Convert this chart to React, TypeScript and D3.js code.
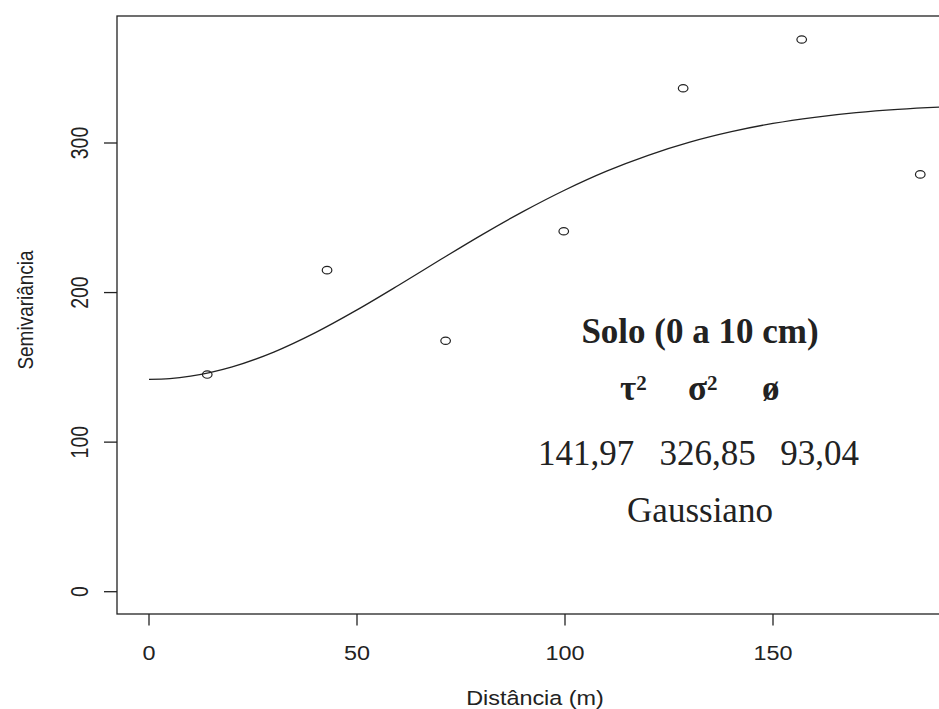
import React from "react";
import * as d3 from "d3";

const lags = [14.0, 42.8, 71.3, 99.7, 128.4, 156.9, 185.4];
const semivar = [145.2, 215.0, 167.8, 241.0, 336.6, 369.2, 279.0];

const curveH = [0, 5, 10, 20, 30, 40, 50, 60, 70, 80, 90, 100, 110, 120, 130, 140, 150, 160, 170, 180, 190, 200];
const curveV = [142.0, 142.5, 144.1, 150.3, 160.2, 173.2, 188.4, 204.9, 221.9, 238.6, 254.3, 268.6, 281.2, 291.8, 300.6, 307.6, 313.1, 317.2, 320.3, 322.5, 324.0, 325.0];

const xTicks = [0, 50, 100, 150];
const yTicks = [0, 100, 200, 300];

const title = "Solo (0 a 10 cm)";
const paramSymbols = ["τ", "σ", "ø"];
const paramSup = ["2", "2", ""];
const paramValues = ["141,97", "326,85", "93,04"];
const modelName = "Gaussiano";

const W = 939;
const H = 709;
const box = { left: 117, top: 16, right: 985, bottom: 614 };
const SX = 1.2;

const x = d3.scaleLinear().domain([0, 150]).range([149, 773]);
const y = d3.scaleLinear().domain([0, 300]).range([591.7, 143]);

const sans = "'Liberation Sans', Arial, Helvetica, sans-serif";
const serif = "'Liberation Serif', 'Times New Roman', Times, serif";
const ink = "#222";

function SText({ tx, ty, rot = 0, children, size = 19.5, anchor = "middle" }: any) {
  return (
    <g transform={`translate(${tx},${ty}) scale(${SX},1) rotate(${rot})`}>
      <text fontFamily={sans} fontSize={size} textAnchor={anchor} fill={ink}>
        {children}
      </text>
    </g>
  );
}

export default function App() {
  const line = d3
    .line<number>()
    .x((_, i) => x(curveH[i]))
    .y((v) => y(v))
    .curve(d3.curveMonotoneX);

  const paramX = [620, 688, 762];
  const valueX = [586, 707.5, 819.5];

  return (
    <svg
      width={W}
      height={H}
      style={{ position: "absolute", left: 0, top: 0, display: "block", background: "#fff" }}
    >
      <rect x={0} y={0} width={W} height={H} fill="#fff" />
      {/* box */}
      <rect
        x={box.left}
        y={box.top}
        width={box.right - box.left}
        height={box.bottom - box.top}
        fill="none"
        stroke={ink}
        strokeWidth={1.3}
      />
      {/* x ticks */}
      {xTicks.map((t) => (
        <g key={"xt" + t}>
          <line x1={x(t)} x2={x(t)} y1={box.bottom} y2={box.bottom + 11.5} stroke={ink} strokeWidth={1.3} />
          <SText tx={x(t)} ty={660}>{String(t)}</SText>
        </g>
      ))}
      {/* y ticks */}
      {yTicks.map((t) => (
        <g key={"yt" + t}>
          <line x1={box.left - 13} x2={box.left} y1={y(t)} y2={y(t)} stroke={ink} strokeWidth={1.3} />
          <SText tx={88} ty={y(t)} rot={-90}>{String(t)}</SText>
        </g>
      ))}
      <SText tx={535} ty={705}>Distância (m)</SText>
      <SText tx={33} ty={310} rot={-90} size={19}>Semivariância</SText>

      {/* model curve */}
      <path d={line(curveV) || ""} fill="none" stroke={ink} strokeWidth={1.3} />

      {/* empirical points */}
      {lags.map((h, i) => (
        <ellipse key={"p" + i} cx={x(h)} cy={y(semivar[i])} rx={4.8} ry={3.7} fill="none" stroke={ink} strokeWidth={1.2} />
      ))}

      {/* annotation */}
      <text x={700} y={343} fontFamily={serif} fontSize={35} fontWeight="bold" textAnchor="middle" fill={ink}>
        {title}
      </text>
      {paramSymbols.map((s, i) => (
        <text key={"ps" + i} x={paramX[i]} y={400} fontFamily={serif} fontSize={35} fontWeight="bold" fill={ink}>
          {s}
          {paramSup[i] ? (
            <tspan fontSize={21} dy={-10}>{paramSup[i]}</tspan>
          ) : null}
        </text>
      ))}
      {paramValues.map((v, i) => (
        <text key={"pv" + i} x={valueX[i]} y={465} fontFamily={serif} fontSize={35} textAnchor="middle" fill={ink}>
          {v}
        </text>
      ))}
      <text x={700} y={522} fontFamily={serif} fontSize={35} textAnchor="middle" fill={ink}>
        {modelName}
      </text>
    </svg>
  );
}
